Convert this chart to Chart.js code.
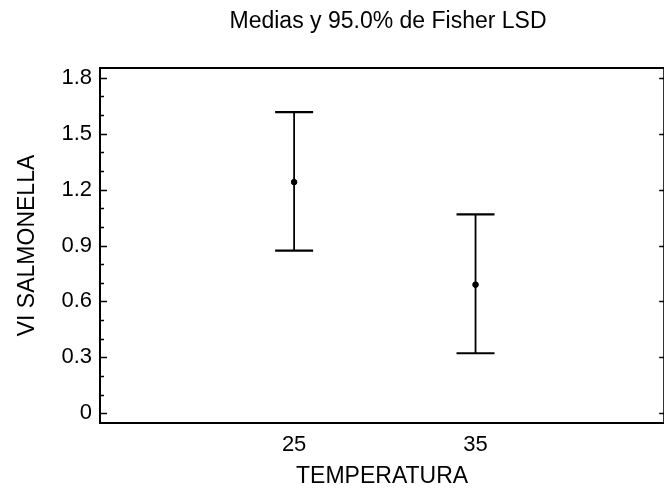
<!DOCTYPE html>
<html>
<head>
<meta charset="utf-8">
<script src="https://cdn.jsdelivr.net/npm/chart.js@4"></script>
<style>
  html, body { margin: 0; padding: 0; background: #fff; overflow: hidden; width: 664px; height: 491px; }
  canvas { display: block; }
</style>
</head>
<body>
<canvas id="chart" width="668" height="491"></canvas>
<script>
// temperaturas y medias con intervalos LSD al 95%
const temperaturas = [25, 35];
const medias = [1.24, 0.69];
const limInferior = [0.872, 0.322];
const limSuperior = [1.615, 1.067];

const yTicks = [0, 0.3, 0.6, 0.9, 1.2, 1.5, 1.8];
const yMinorTicks = [0.1, 0.2, 0.4, 0.5, 0.7, 0.8, 1.0, 1.1, 1.3, 1.4, 1.6, 1.7];

const titulo = 'Medias y 95.0% de Fisher LSD';
const tituloX = 'TEMPERATURA';
const tituloY = 'VI SALMONELLA';

const FONT = '"Liberation Sans", Arial, sans-serif';
const INK = '#000';

// marco, marcas de los ejes, titulo y barras de error
const lsdPlugin = {
  id: 'lsd',
  afterDatasetsDraw(chart) {
    const {ctx, chartArea: a, scales: {x, y}} = chart;
    ctx.save();
    ctx.strokeStyle = INK;

    // barras
    temperaturas.forEach((t, i) => {
      const px = x.getPixelForValue(t);
      const top = y.getPixelForValue(limSuperior[i]);
      const bot = y.getPixelForValue(limInferior[i]);
      ctx.lineWidth = 1.8;
      ctx.beginPath();
      ctx.moveTo(px, top);
      ctx.lineTo(px, bot);
      ctx.stroke();
      ctx.lineWidth = 2.2;
      ctx.beginPath();
      ctx.moveTo(px - 19, top); ctx.lineTo(px + 19, top);
      ctx.moveTo(px - 19, bot); ctx.lineTo(px + 19, bot);
      ctx.stroke();
    });

    // marco
    ctx.lineWidth = 2;
    ctx.strokeRect(a.left, a.top, a.right - a.left, a.bottom - a.top);

    // marcas hacia dentro
    ctx.lineWidth = 1.4;
    ctx.beginPath();
    yTicks.forEach(v => {
      const py = Math.round(y.getPixelForValue(v)) + 0.5;
      ctx.moveTo(a.left, py); ctx.lineTo(a.left + 7, py);
      ctx.moveTo(a.right, py); ctx.lineTo(a.right - 5, py);
    });
    yMinorTicks.forEach(v => {
      const py = Math.round(y.getPixelForValue(v)) + 0.5;
      ctx.moveTo(a.left, py); ctx.lineTo(a.left + 4, py);
    });
    ctx.stroke();

    // titulo
    ctx.fillStyle = INK;
    ctx.font = '23px ' + FONT;
    ctx.textAlign = 'center';
    ctx.textBaseline = 'middle';
    ctx.fillText(titulo, 388, 22);
    ctx.restore();
  }
};

new Chart(document.getElementById('chart'), {
  type: 'scatter',
  data: {
    datasets: [{
      data: temperaturas.map((t, i) => ({x: t, y: medias[i]})),
      backgroundColor: INK,
      borderColor: INK,
      pointRadius: 2.8,
      pointHoverRadius: 2.8
    }]
  },
  options: {
    responsive: false,
    devicePixelRatio: 1,
    animation: false,
    layout: {padding: {top: 68, right: 2, left: 0, bottom: 0}},
    plugins: {
      legend: {display: false},
      title: {display: false},
      tooltip: {enabled: false}
    },
    scales: {
      x: {
        type: 'linear',
        min: 14.3,
        max: 45.4,
        afterBuildTicks: s => { s.ticks = temperaturas.map(v => ({value: v})); },
        afterFit: s => { s.height = 68; },
        grid: {display: false, drawTicks: false},
        border: {display: false},
        ticks: {
          padding: 9,
          color: INK,
          font: {family: FONT, size: 22},
          maxRotation: 0,
          callback: v => String(v)
        },
        title: {
          display: true,
          text: tituloX,
          color: INK,
          font: {family: FONT, size: 23},
          padding: {top: 0, bottom: 1}
        }
      },
      y: {
        type: 'linear',
        min: -0.052,
        max: 1.852,
        afterBuildTicks: s => { s.ticks = yTicks.map(v => ({value: v})); },
        afterFit: s => { s.width = 100; },
        grid: {display: false, drawTicks: false},
        border: {display: false},
        ticks: {
          padding: 8,
          color: INK,
          font: {family: FONT, size: 22},
          callback: v => v === 0 ? '0' : v.toFixed(1)
        },
        title: {
          display: true,
          text: tituloY,
          color: INK,
          font: {family: FONT, size: 23},
          padding: {top: 14, bottom: 0}
        }
      }
    }
  },
  plugins: [lsdPlugin]
});
</script>
</body>
</html>
